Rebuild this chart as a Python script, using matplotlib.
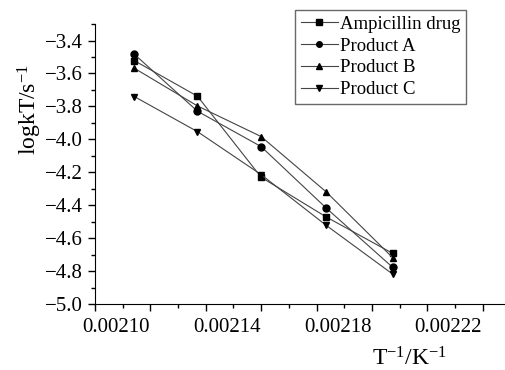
import numpy as np
import matplotlib
matplotlib.use('Agg')
import matplotlib.pyplot as plt
from matplotlib.ticker import MultipleLocator, FuncFormatter
from matplotlib.transforms import ScaledTranslation

plt.rcParams['font.family'] = ['Liberation Serif', 'DejaVu Serif']
plt.rcParams['mathtext.fontset'] = 'custom'
plt.rcParams['mathtext.rm'] = 'Liberation Serif'
plt.rcParams['mathtext.it'] = 'Liberation Serif'

inv_T = [0.0021142, 0.0021370, 0.0021600, 0.0021835, 0.0022075]
ampicillin = [-3.522, -3.738, -4.230, -4.471, -4.692]
product_a = [-3.483, -3.829, -4.044, -4.417, -4.777]
product_b = [-3.568, -3.797, -3.983, -4.319, -4.718]
product_c = [-3.740, -3.953, -4.214, -4.522, -4.818]

series = [
    ('Ampicillin drug', ampicillin, 's'),
    ('Product A', product_a, 'o'),
    ('Product B', product_b, '^'),
    ('Product C', product_c, 'v'),
]

fig = plt.figure(figsize=(5.06, 3.70), dpi=100)
ax = fig.add_axes([0.1877, 0.178, 0.8123, 0.757])

for name, vals, m in series:
    ax.plot(inv_T, vals, color='#444444', lw=0.8, marker=m, markersize=5,
            markerfacecolor='black', markeredgecolor='black', label=name)

ax.set_xlim(0.00210, 0.0022484)
ax.set_ylim(-5.0, -3.3)
ax.xaxis.set_major_locator(MultipleLocator(0.00002))
ax.xaxis.set_minor_locator(MultipleLocator(0.00001))
ax.yaxis.set_major_locator(MultipleLocator(0.2))
ax.yaxis.set_minor_locator(MultipleLocator(0.1))

def xfmt(v, pos):
    k = int(round((v - 0.00210) / 0.00002))
    return '%.5f' % v if k % 2 == 0 else ''

ax.xaxis.set_major_formatter(FuncFormatter(xfmt))
ax.yaxis.set_major_formatter(FuncFormatter(lambda v, p: ('%.1f' % v).replace('-', '\u2212')))
ax.tick_params(which='major', direction='out', length=5, width=1, labelsize=15)
ax.tick_params(axis='x', which='major', pad=5)
ax.tick_params(which='minor', direction='out', length=3, width=1)
ax.spines['top'].set_visible(False)
ax.spines['right'].set_visible(False)

# x tick labels sit a little right of their ticks in the reference
shift = ScaledTranslation(0.21, 0, fig.dpi_scale_trans)
for lab in ax.get_xticklabels():
    lab.set_transform(lab.get_transform() + shift)

ax.set_ylabel('logkT/s$^{-1}$', fontsize=17)
ax.yaxis.set_label_coords(-0.124, 0.696)
ax.set_xlabel('T$^{-1}$/K$^{-1}$', fontsize=17)
ax.xaxis.set_label_coords(0.766, -0.155)

leg = ax.legend(loc='upper right', bbox_to_anchor=(0.903, 1.05), fontsize=13.5,
                frameon=True, fancybox=False, edgecolor='#444444',
                handlelength=2.0, handletextpad=0.1, borderpad=0.3,
                labelspacing=0.25, borderaxespad=0)
leg.get_frame().set_linewidth(1.0)
for h in leg.legend_handles:
    h.set_markersize(4)

fig.savefig('out.png', dpi=100)
